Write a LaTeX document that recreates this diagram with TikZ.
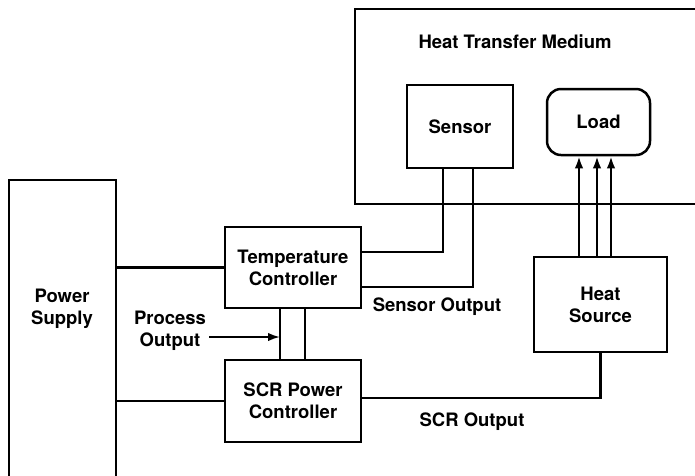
\documentclass[tikz,border=0pt]{standalone}
\usepackage{fontspec}
\setmainfont{TeX Gyre Heros}
\usetikzlibrary{arrows.meta}
\begin{document}
\begin{tikzpicture}[x=1pt,y=-1pt,line width=2.5pt,
  txt/.style={font=\bfseries\fontsize{18.5}{22}\selectfont,align=center,inner sep=0pt},
  box/.style={txt,draw,rectangle},
  arr/.style={-{Latex[length=12pt,width=8.5pt]}}]
\useasboundingbox (0,0) rectangle (695,475);
% open frames
\draw (700,9) -- (355,9) -- (355,204) -- (700,204);
\draw (9,480) -- (9,180) -- (116,180) -- (116,480);
\coordinate (psr) at (116,309);
% labels
\node[txt] (htm) at (515,42) {Heat Transfer Medium};
\node[txt] (ps) at (62,309) {Power\\Supply};
\node[txt] (po) at (170,331) {Process\\Output};
\node[txt] (so) at (437,307) {Sensor Output};
\node[txt] (sco) at (472,422) {SCR Output};
% boxes
\node[box,minimum width=106pt,minimum height=83pt] (sensor) at (460,126.5) {Sensor};
\node[box,rounded corners=14pt,minimum width=103pt,minimum height=66pt] (load) at (598.5,122) {Load};
\node[box,minimum width=133pt,minimum height=95pt] (hs) at (600.5,304.5) {Heat\\Source};
\node[box,minimum width=136pt,minimum height=81pt] (tc) at (293,267.5) {Temperature\\Controller};
\node[box,minimum width=136pt,minimum height=82pt] (scr) at (293,401) {SCR Power\\Controller};
% connectors
\draw ([xshift=-17pt]sensor.south) |- ([yshift=15.5pt]tc.east);
\draw ([xshift=13pt]sensor.south) |- ([yshift=-19.5pt]tc.east);
\foreach \dx in {-21.5,-3.5,10.5}
  \draw[arr] ([xshift=\dx pt]hs.north) -- ([xshift=\dx pt]hs.north |- load.south);
\draw ([yshift=3pt]scr.east) -| (hs.south);
\coordinate (l1) at ([xshift=-13pt]tc.south);
\draw (l1) -- (l1 |- scr.north);
\draw ([xshift=12pt]tc.south) -- ([xshift=12pt]tc.south |- scr.north);
\draw (psr |- tc.west) -- (tc.west);
\draw (psr |- scr.west) -- (scr.west);
\draw[arr,line width=2pt] ([xshift=2pt,yshift=-6pt]po.east) -- ([yshift=-6pt]po.east -| l1);
\end{tikzpicture}
\end{document}
